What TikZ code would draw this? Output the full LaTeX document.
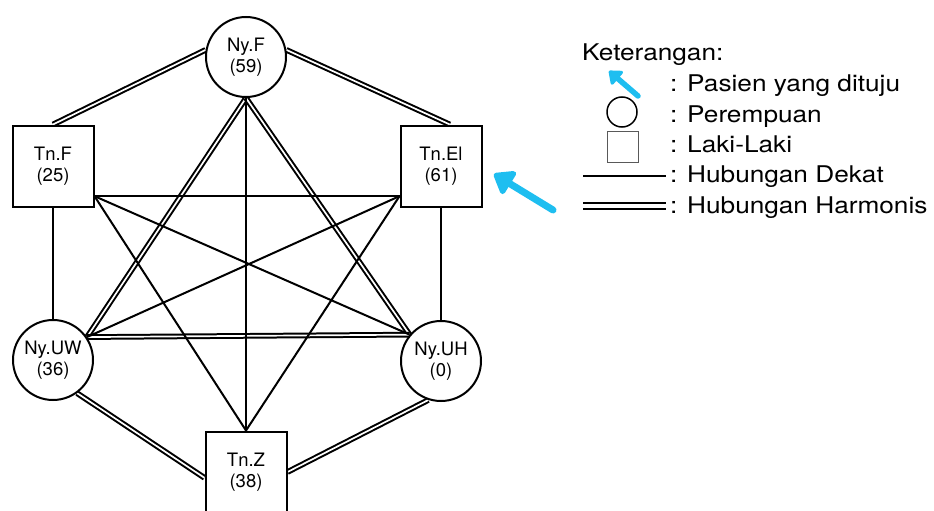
\documentclass[tikz,border=0pt]{standalone}
\usepackage{fontspec}
\setmainfont{TeX Gyre Heros}
\newfontfamily\legfont[FakeStretch=1.14]{TeX Gyre Heros}
\usetikzlibrary{arrows.meta,backgrounds}
\definecolor{pcyan}{RGB}{30,190,240}
\begin{document}
\begin{tikzpicture}[x=1pt,y=-1pt,
  fem/.style={circle,draw,fill=white,line width=2pt,minimum size=80pt,inner sep=0pt,align=center,font=\fontsize{18.5}{21}\selectfont},
  mal/.style={rectangle,draw,fill=white,line width=2pt,minimum size=81pt,inner sep=0pt,align=center,font=\fontsize{18.5}{21}\selectfont},
  dekat/.style={line width=2pt},
  harmonis/.style={double,double distance=1.7pt,line width=2pt},
  legtext/.style={anchor=base west,inner sep=0pt,font=\legfont\fontsize{23}{27}\selectfont},
  parrow/.style={pcyan,line cap=round}
]
\useasboundingbox (0,0) rectangle (934,511);

% nodes
\node[fem] (nyf)  at (246,57)  {Ny.F\\(59)};
\node[mal] (tnf)  at (53,166)  {Tn.F\\(25)};
\node[mal] (tnel) at (441,166) {Tn.El\\(61)};
\node[fem] (nyuw) at (53,360)  {Ny.UW\\(36)};
\node[fem] (nyuh) at (441,361) {Ny.UH\\(0)};
\node[mal] (tnz)  at (246,472) {Tn.Z\\(38)};

% connectors
\begin{scope}[on background layer]
  \draw[harmonis] (nyf.170) -- (tnf.north);
  \draw[harmonis] (nyf.10) -- (tnel.78);
  \draw[harmonis] (nyf.south) -- (nyuw.34);
  \draw[harmonis] (nyf.south) -- (nyuh.140);
  \draw[harmonis] (nyuw.34) -- (nyuh.140);
  \draw[harmonis] (nyuw.-54) -- (tnz.188);
  \draw[harmonis] (nyuh.-108) -- (tnz.east);
  \draw[dekat] (nyf.south) -- (tnz.north);
  \draw[dekat] (tnf.-36) -- (tnel.216);
  \draw[dekat] (tnf.-36) -- (nyuh.140);
  \draw[dekat] (tnf.-36) -- (tnz.north);
  \draw[dekat] (tnel.216) -- (nyuw.34);
  \draw[dekat] (tnel.216) -- (tnz.north);
  \draw[dekat] (tnf.south) -- (nyuw.north);
  \draw[dekat] (tnel.south) -- (nyuh.north);
\end{scope}

% pointer arrow
\coordinate (a1) at (553,210);
\coordinate (a2) at (494,174);
\draw[parrow,line width=7pt,-{Triangle[round,length=21pt,width=30pt]}] (a1) -- (a2);

% legend
\node[legtext] (ket) at (582,60) {Keterangan:};
\node[legtext] (t1) at (670,91) {: Pasien yang dituju};
\node[legtext] (t2) at (670,122) {: Perempuan};
\node[legtext] (t3) at (670,152) {: Laki-Laki};
\node[legtext] (t4) at (670,182) {: Hubungan Dekat};
\node[legtext] (t5) at (670,213) {: Hubungan Harmonis};

\coordinate (la1) at (638,96);
\coordinate (la2) at (609,71);
\draw[parrow,line width=5.5pt,-{Triangle[round,length=13pt,width=20pt]}] (la1) -- (la2);
\node[circle,draw,line width=1.5pt,minimum size=30pt,inner sep=0pt] (lc) at (622,112) {};
\node[rectangle,draw=black!65,line width=1.2pt,minimum size=31pt,inner sep=0pt] (ls) at (623,147) {};
\coordinate (ld1) at (583,176);
\coordinate (ld2) at (666,176);
\draw[line width=2pt] (ld1) -- (ld2);
\coordinate (lh1) at (583,206);
\coordinate (lh2) at (666,206);
\draw[double,line width=2pt,double distance=3.5pt] (lh1) -- (lh2);
\end{tikzpicture}
\end{document}
